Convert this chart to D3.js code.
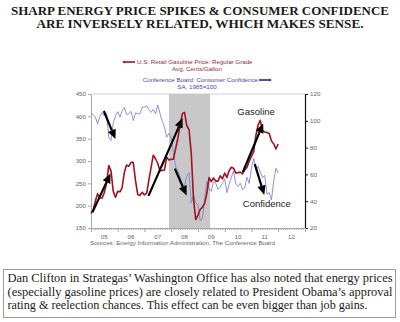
<!DOCTYPE html>
<html>
<head>
<meta charset="utf-8">
<script src="https://cdn.jsdelivr.net/npm/d3@7"></script>
<style>
  html, body { margin: 0; padding: 0; background: #fff; }
  svg { display: block; }
</style>
</head>
<body>
<div id="chart"></div>
<script>
// gasoline price vs consumer confidence, monthly Jan 2005 .. Jan 2012

const firstMonth = "2005-01";

// U.S. retail gasoline, regular grade, cents/gallon
const gasoline = [
  182, 192, 210, 227, 217, 217, 229, 250, 290, 278, 232, 219, // 2005
  232, 231, 240, 274, 291, 288, 297, 297, 256, 225, 223, 230, // 2006
  224, 228, 256, 285, 313, 305, 295, 278, 279, 280, 309, 302, // 2007
  304, 304, 327, 351, 378, 406, 409, 379, 370, 317, 215, 169, // 2008
  179, 192, 196, 205, 227, 263, 254, 262, 255, 255, 267, 260, // 2009
  273, 263, 278, 286, 284, 273, 274, 275, 271, 280, 286, 299, // 2010
  310, 321, 356, 380, 391, 368, 365, 364, 361, 345, 338, 327, // 2011
  338                                                          // 2012
];

// Conference Board consumer confidence, SA, 1985=100
const confidence = [
  105.1, 104.4, 103.0, 97.5, 103.1, 106.2, 103.6, 105.5, 87.5, 85.2, 98.3, 103.8,
  106.8, 102.7, 107.5, 109.8, 104.7, 105.4, 107.0, 100.2, 105.9, 105.1, 105.3, 110.0,
  110.2, 111.2, 108.2, 106.3, 108.5, 105.3, 111.9, 105.6, 99.5, 95.2, 87.8, 90.6,
  87.3, 76.4, 65.9, 62.8, 58.1, 51.0, 51.9, 58.5, 61.4, 38.8, 44.7, 38.6,
  37.4, 25.3, 26.9, 40.8, 54.8, 49.3, 47.4, 54.5, 53.4, 48.7, 50.6, 53.6,
  56.5, 46.4, 52.3, 57.7, 62.7, 52.9, 51.0, 53.5, 48.6, 49.9, 57.8, 53.3,
  64.8, 72.0, 63.8, 66.0, 61.7, 57.6, 59.2, 45.2, 46.4, 40.9, 55.2, 64.5,
  61.1
];

const recession = ["2007-12-01", "2009-06-15"];
const leftTicks = [150, 200, 250, 300, 350, 400, 450];
const rightTicks = [20, 40, 60, 80, 100, 120];
const yearLabels = ["05", "06", "07", "08", "09", "10", "11", "12"];

// annotation arrows: [from date, from value, to date, to value] on the cents scale
const arrows = [
  ["2005-01-20", 185, "2005-09-25", 272],
  ["2005-06-25", 412, "2005-12-01", 349],
  ["2007-02-25", 222, "2008-06-05", 396],
  ["2008-02-20", 283, "2008-07-30", 223],
  ["2010-09-05", 275, "2011-06-10", 384],
  ["2011-02-15", 293, "2011-06-25", 224]
];

const notes = [
  { text: "Gasoline", date: "2011-03-05", value: 402 },
  { text: "Confidence", date: "2011-07-30", value: 196 }
];

const titleLines = [
  "SHARP ENERGY PRICE SPIKES & CONSUMER CONFIDENCE",
  "ARE INVERSELY RELATED, WHICH MAKES SENSE."
];

const footerLines = [
  "Dan Clifton in Strategas\u2019 Washington Office has also noted that energy prices",
  "(especially gasoline prices) are closely related to President Obama\u2019s approval",
  "rating & reelection chances.  This effect can be even bigger than job gains."
];

const W = 400, H = 322;
const plot = { left: 91, right: 305, top: 94, bottom: 228 };
const red = "#a3121e", blue = "#8482d6";
const sans = "'Liberation Sans', Arial, sans-serif";
const serif = "'Liberation Serif', 'Times New Roman', serif";

const parseDay = d3.timeParse("%Y-%m-%d");
const month0 = d3.timeParse("%Y-%m")(firstMonth);
const months = gasoline.map((_, i) => d3.timeMonth.offset(month0, i));

const svg = d3.select("#chart").append("svg")
  .attr("width", W)
  .attr("height", H);

// scales
const x = d3.scaleTime()
  .domain([new Date(2005, 0, 1), new Date(2013, 0, 1)])
  .range([plot.left, plot.right]);
const yL = d3.scaleLinear().domain([150, 450]).range([plot.bottom, plot.top]);
const yR = d3.scaleLinear().domain([20, 120]).range([plot.bottom, plot.top]);

// title
svg.append("g")
  .selectAll("text")
  .data(titleLines)
  .join("text")
  .attr("x", W / 2)
  .attr("y", (d, i) => 14.5 + i * 13.8)
  .attr("text-anchor", "middle")
  .attr("textLength", (d, i) => i === 0 ? 378 : 327)
  .attr("lengthAdjust", "spacingAndGlyphs")
  .style("font-family", serif)
  .style("font-weight", "bold")
  .style("font-size", "12px")
  .style("fill", "#1a1a1a")
  .text(d => d);

// legend
function arrowHead(x1, y1, x2, y2, len, half) {
  const a = Math.atan2(y2 - y1, x2 - x1);
  const bx = x2 - len * Math.cos(a), by = y2 - len * Math.sin(a);
  const px = -Math.sin(a) * half, py = Math.cos(a) * half;
  return { bx, by, pts: [[x2, y2], [bx + px, by + py], [bx - px, by - py]] };
}

const legend = svg.append("g").style("font-family", sans).style("font-size", "6.2px");

legend.append("text").attr("x", 137).attr("y", 64)
  .style("fill", "#9c2733").text("U.S. Retail Gasoline Price: Regular Grade");
legend.append("text").attr("x", 197).attr("y", 70.5).attr("text-anchor", "middle")
  .style("fill", "#9c2733").text("Avg, Cents/Gallon");
legend.append("text").attr("x", 258).attr("y", 82).attr("text-anchor", "end")
  .style("fill", "#4a42c0").text("Conference Board: Consumer Confidence");
legend.append("text").attr("x", 197).attr("y", 88.5).attr("text-anchor", "middle")
  .style("fill", "#4a42c0").text("SA, 1985=100");

[[135, 62, 122, 62, red], [259, 80, 272, 80, "#2a22b8"]].forEach(([x1, y1, x2, y2, c]) => {
  const h = arrowHead(x1, y1, x2, y2, 3, 1.6);
  legend.append("line").attr("x1", x1).attr("y1", y1).attr("x2", h.bx).attr("y2", h.by)
    .attr("stroke", c).attr("stroke-width", 1.6);
  legend.append("polygon").attr("points", h.pts.join(" ")).attr("fill", c);
});

// plot frame and recession band
svg.append("rect")
  .attr("x", x(parseDay(recession[0])))
  .attr("y", plot.top)
  .attr("width", x(parseDay(recession[1])) - x(parseDay(recession[0])))
  .attr("height", plot.bottom - plot.top)
  .attr("fill", "#c8c8c8");

svg.append("line")
  .attr("x1", plot.left).attr("x2", plot.right)
  .attr("y1", plot.top).attr("y2", plot.top)
  .attr("stroke", "#c4c4c4").attr("stroke-width", 0.8);

// axes
const axisLeft = svg.append("g")
  .attr("transform", `translate(${plot.left},0)`)
  .call(d3.axisLeft(yL).tickValues(leftTicks).tickSize(3).tickSizeOuter(0).tickPadding(2));
axisLeft.select(".domain").attr("stroke", "#a8a8a8");
axisLeft.selectAll(".tick line").attr("stroke", "#a8a8a8");
axisLeft.selectAll(".tick text").style("font-family", sans).style("font-size", "6.2px").style("fill", "#666");

const axisRight = svg.append("g")
  .attr("transform", `translate(${plot.right},0)`)
  .call(d3.axisRight(yR).tickValues(rightTicks).tickSize(3).tickSizeOuter(0).tickPadding(2));
axisRight.select(".domain").attr("stroke", "#111").attr("stroke-width", 1.2);
axisRight.selectAll(".tick line").attr("stroke", "#111");
axisRight.selectAll(".tick text").style("font-family", sans).style("font-size", "6.2px").style("fill", "#666");

const minor = svg.append("g")
  .attr("transform", `translate(0,${plot.bottom})`)
  .call(d3.axisBottom(x).ticks(d3.timeMonth.every(1)).tickSize(2).tickSizeOuter(0).tickFormat(""));
minor.select(".domain").attr("stroke", "#a8a8a8");
minor.selectAll(".tick line").attr("stroke", "#a8a8a8");

const major = svg.append("g")
  .attr("transform", `translate(0,${plot.bottom})`)
  .call(d3.axisBottom(x).ticks(d3.timeYear.every(1)).tickSize(4).tickSizeOuter(0).tickFormat(""));
major.select(".domain").remove();
major.selectAll(".tick line").attr("stroke", "#a8a8a8");

svg.append("g")
  .selectAll("text")
  .data(yearLabels)
  .join("text")
  .attr("x", (d, i) => x(new Date(2005 + i, 6, 1)))
  .attr("y", plot.bottom + 10.5)
  .attr("text-anchor", "middle")
  .style("font-family", sans)
  .style("font-size", "6.2px")
  .style("fill", "#666")
  .text(d => d);

svg.append("text")
  .attr("x", plot.left - 1)
  .attr("y", plot.bottom + 16.5)
  .style("font-family", sans)
  .style("font-size", "6.2px")
  .style("fill", "#666")
  .text("Sources:  Energy Information Administration, The Conference Board");

// series
const confLine = d3.line().x((d, i) => x(months[i])).y(d => yR(d));
const gasLine = d3.line().x((d, i) => x(months[i])).y(d => yL(d));

svg.append("path")
  .datum(confidence)
  .attr("d", confLine)
  .attr("fill", "none")
  .attr("stroke", blue)
  .attr("stroke-width", 0.9);

svg.append("path")
  .datum(gasoline)
  .attr("d", gasLine)
  .attr("fill", "none")
  .attr("stroke", red)
  .attr("stroke-width", 1.6)
  .attr("stroke-linejoin", "round");

// black annotation arrows
const ann = svg.append("g");
arrows.forEach(([d1, v1, d2, v2]) => {
  const x1 = x(parseDay(d1)), y1 = yL(v1), x2 = x(parseDay(d2)), y2 = yL(v2);
  const h = arrowHead(x1, y1, x2, y2, 9.5, 4.2);
  ann.append("line")
    .attr("x1", x1).attr("y1", y1)
    .attr("x2", h.bx).attr("y2", h.by)
    .attr("stroke", "#000").attr("stroke-width", 2.2);
  ann.append("polygon").attr("points", h.pts.join(" ")).attr("fill", "#000");
});

ann.selectAll("text")
  .data(notes)
  .join("text")
  .attr("x", d => x(parseDay(d.date)))
  .attr("y", d => yL(d.value))
  .attr("text-anchor", "middle")
  .style("font-family", sans)
  .style("font-size", "9.5px")
  .style("fill", "#222")
  .text(d => d.text);

// commentary box
svg.append("rect")
  .attr("x", 3.5).attr("y", 269.5)
  .attr("width", 392).attr("height", 48)
  .attr("fill", "#fff")
  .attr("stroke", "#9a9a9a");

svg.append("g")
  .selectAll("text")
  .data(footerLines)
  .join("text")
  .attr("x", 7.5)
  .attr("y", (d, i) => 282 + i * 13.5)
  .attr("textLength", (d, i) => i === 2 ? 360 : 385)
  .attr("lengthAdjust", "spacingAndGlyphs")
  .style("font-family", serif)
  .style("font-size", "11.5px")
  .style("fill", "#1a1a1a")
  .text(d => d);
</script>
</body>
</html>
